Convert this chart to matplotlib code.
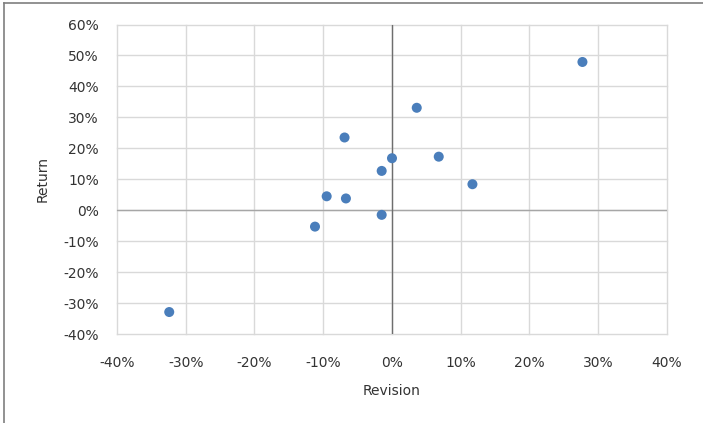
import matplotlib.pyplot as plt
from matplotlib.ticker import PercentFormatter, MultipleLocator

plt.rcParams['axes.unicode_minus'] = False

# -- Data (fractions)
revision = [0.277, -0.324, 0.036, -0.069, 0.000, 0.068, -0.015, 0.117,
            -0.095, -0.067, -0.015, -0.112]
ret = [0.479, -0.329, 0.331, 0.235, 0.168, 0.173, 0.127, 0.084,
       0.045, 0.038, -0.015, -0.053]

x_label = 'Revision'
y_label = 'Return'

text_color = '#333333'
grid_color = '#d9d9d9'
point_color = '#4a7ebb'

fig = plt.figure(figsize=(7.03, 4.23), dpi=100)
ax = fig.add_axes([0.1664, 0.2104, 0.7824, 0.7316])
ax.set_axisbelow(True)

ax.scatter(revision, ret, s=52, color=point_color, edgecolors='none', zorder=3)

ax.set_xlim(-0.4, 0.4)
ax.set_ylim(-0.4, 0.6)
ax.xaxis.set_major_locator(MultipleLocator(0.1))
ax.yaxis.set_major_locator(MultipleLocator(0.1))
ax.xaxis.set_major_formatter(PercentFormatter(1.0, decimals=0))
ax.yaxis.set_major_formatter(PercentFormatter(1.0, decimals=0))

ax.grid(True, color=grid_color, linewidth=1.0)
for gl in ax.get_xgridlines() + ax.get_ygridlines():
    gl.set_clip_on(False)
for s in ax.spines.values():
    s.set_visible(False)
ax.axhline(0, color='#a6a6a6', linewidth=1.0, zorder=2)
ax.axvline(0, color='#6e6e6e', linewidth=1.0, zorder=2)

ax.tick_params(axis='both', length=0, labelsize=10, labelcolor=text_color)
ax.tick_params(axis='x', pad=16)
ax.tick_params(axis='y', pad=13)

ax.set_xlabel(x_label, fontsize=10, color=text_color, labelpad=10)
ax.set_ylabel(y_label, fontsize=10, color=text_color, labelpad=10)

# frame of the chart area (left and top edges visible)
fig.add_artist(plt.Line2D([0.0064, 0.0064], [0, 0.993], color='#7f7f7f',
                          linewidth=1.2, transform=fig.transFigure))
fig.add_artist(plt.Line2D([0.0064, 1], [0.993, 0.993], color='#7f7f7f',
                          linewidth=1.2, transform=fig.transFigure))

fig.savefig('out.png', dpi=100)
